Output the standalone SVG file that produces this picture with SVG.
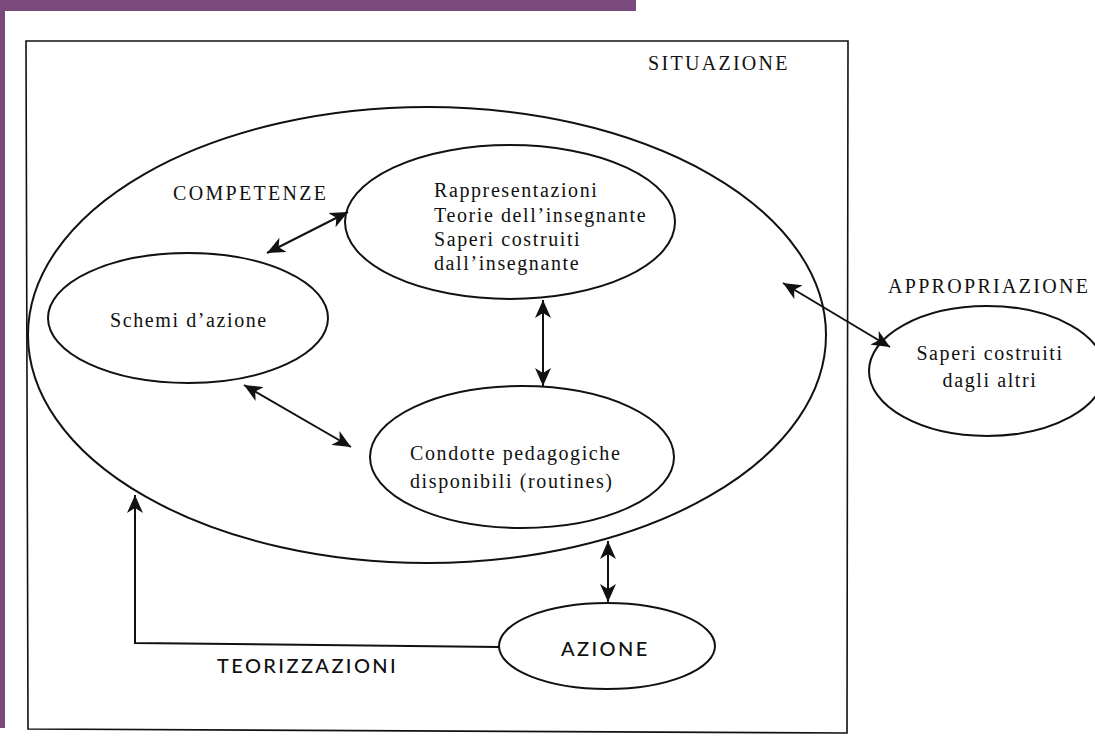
<svg xmlns="http://www.w3.org/2000/svg" width="1095" height="736" viewBox="0 0 1095 736">
<style>
.bg{fill:#ffffff}
.bar{fill:#7a4a7d}
.frame{fill:none;stroke:#111;stroke-width:1.6}
.node{fill:none;stroke:#111;stroke-width:2}
.serif{font-family:"Liberation Serif","Times New Roman",serif;font-size:20px;fill:#111}
.caps{letter-spacing:2.3px}
.lower{letter-spacing:1.6px}
.sans{font-family:Lato,"Open Sans",sans-serif;font-size:20px;font-weight:500;fill:#111;letter-spacing:2.4px}
.conn{fill:none;stroke:#111;stroke-width:2}
</style>
<defs>
<marker id="ah" markerUnits="userSpaceOnUse" markerWidth="18" markerHeight="16" refX="18" refY="8" orient="auto-start-reverse">
<path d="M0,0 L18,8 L0,16 L5,8 Z" fill="#111"/>
</marker>
</defs>
<rect class="bg" x="0" y="0" width="1095" height="736"/>
<rect class="bar" x="0" y="0" width="636" height="11"/>
<rect class="bar" x="0" y="0" width="5" height="728"/>

<g id="situazione">
<path class="frame" d="M26,41 L848,41 L847,733 L28,729 Z"/>
<text class="serif caps" x="648" y="70">SITUAZIONE</text>
</g>

<g id="competenze">
<ellipse class="node" cx="427" cy="335" rx="399" ry="228"/>
<text class="serif caps" x="173" y="200">COMPETENZE</text>
</g>

<g id="rappresentazioni">
<ellipse class="node" cx="510" cy="222" rx="165" ry="77"/>
<text class="serif lower" x="434" y="197">Rappresentazioni</text>
<text class="serif lower" x="434" y="222">Teorie dell’insegnante</text>
<text class="serif lower" x="434" y="246">Saperi costruiti</text>
<text class="serif lower" x="434" y="270">dall’insegnante</text>
</g>

<g id="schemi">
<ellipse class="node" cx="188" cy="318" rx="140" ry="65"/>
<text class="serif lower" x="110" y="327">Schemi d’azione</text>
</g>

<g id="condotte">
<ellipse class="node" cx="522" cy="457" rx="152" ry="71"/>
<text class="serif lower" x="410" y="460">Condotte pedagogiche</text>
<text class="serif lower" x="410" y="488">disponibili (routines)</text>
</g>

<g id="appropriazione">
<text class="serif caps" x="888" y="293">APPROPRIAZIONE</text>
<ellipse class="node" cx="987" cy="371" rx="118" ry="65"/>
<text class="serif lower" x="990" y="360" text-anchor="middle">Saperi costruiti</text>
<text class="serif lower" x="990" y="387" text-anchor="middle">dagli altri</text>
</g>

<g id="azione">
<ellipse class="node" cx="607" cy="646" rx="108" ry="43"/>
<text class="sans" x="561" y="656">AZIONE</text>
</g>

<g id="teorizzazioni">
<text class="sans" x="217" y="673">TEORIZZAZIONI</text>
</g>

<g id="connectors">
<line class="conn" x1="267" y1="253" x2="348" y2="212" marker-start="url(#ah)" marker-end="url(#ah)"/>
<line class="conn" x1="244" y1="385" x2="351" y2="447" marker-start="url(#ah)" marker-end="url(#ah)"/>
<line class="conn" x1="543" y1="300" x2="543" y2="386" marker-start="url(#ah)" marker-end="url(#ah)"/>
<line class="conn" x1="783" y1="283" x2="890" y2="347" marker-start="url(#ah)" marker-end="url(#ah)"/>
<line class="conn" x1="608" y1="541" x2="608" y2="602" marker-start="url(#ah)" marker-end="url(#ah)"/>
<polyline class="conn" points="499,647 135,643 135,495" marker-end="url(#ah)"/>
</g>
</svg>
